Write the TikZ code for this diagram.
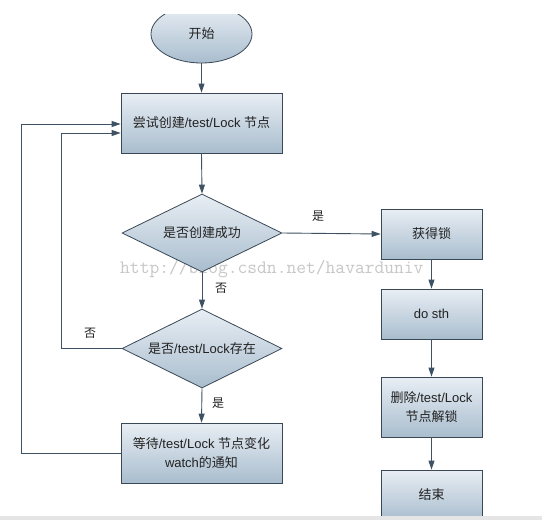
\documentclass[tikz,border=0pt]{standalone}
\usepackage{fontspec}
\setmainfont{Liberation Sans}
\newfontfamily\cjk{Noto Sans CJK SC}
\usetikzlibrary{shapes.geometric,arrows.meta}
\definecolor{edgec}{HTML}{3A4856}
\definecolor{arrc}{HTML}{3E5263}
\definecolor{topc}{HTML}{E8EEF4}
\definecolor{botc}{HTML}{A9BDCE}
\definecolor{txtc}{HTML}{222222}
\tikzset{
  box/.style={draw=edgec, line width=0.8pt, top color=topc, bottom color=botc,
    rectangle, inner sep=1pt, align=center, text=txtc, font=\fontsize{13}{19}\selectfont},
  dia/.style={draw=edgec, line width=0.8pt, top color=topc, bottom color=botc,
    diamond, aspect=2, inner sep=0pt, align=center, text=txtc, font=\fontsize{13}{16}\selectfont,
    minimum width=160pt, minimum height=78pt},
  oval/.style={draw=edgec, line width=0.8pt, top color=topc, bottom color=botc,
    ellipse, inner sep=0pt, text=txtc, font=\fontsize{13}{16}\selectfont,
    minimum width=101pt, minimum height=58pt},
  conn/.style={draw=arrc, line width=0.9pt, -{Triangle[length=9pt,width=6pt]}},
  lbl/.style={text=txtc, font=\cjk\fontsize{12}{14}\selectfont, inner sep=0pt},
}
\begin{document}
\begin{tikzpicture}[x=1pt, y=-1pt]
\useasboundingbox (0,0) rectangle (542,520);
\fill[white] (0,0) rectangle (542,520);
% watermark
\node[text=black!22, font=\ttfamily\fontsize{19}{20}\selectfont, anchor=west, inner sep=0pt] (wm) at (120,269) {http://blog.csdn.net/havarduniv};
\begin{scope}
\clip (0,14.5) rectangle (542,200);
\node[oval] (start) at (201.5,34) {\cjk 开始};
\end{scope}
\node[box, minimum width=161pt, minimum height=60pt] (b1) at (201.5,123) {{\cjk 尝试创建}/test/Lock {\cjk 节点}};
\node[dia] (d1) at (202,233) {\cjk 是否创建成功};
\node[dia, minimum height=79pt] (d2) at (202,348.5) {{\cjk 是否}/test/Lock{\cjk 存在}};
\node[box, minimum width=161pt, minimum height=60pt] (b3) at (201.5,453) {{\cjk 等待}/test/Lock {\cjk 节点变化}\\watch{\cjk 的通知}};
\node[box, minimum width=101pt, minimum height=50pt] (r1) at (431.5,234) {\cjk 获得锁};
\node[box, minimum width=101pt, minimum height=50pt] (r2) at (431.5,314) {do sth};
\node[box, minimum width=101pt, minimum height=60pt] (r3) at (431.5,407) {{\cjk 删除}/test/Lock\\{\cjk 节点解锁}};
\node[box, minimum width=101pt, minimum height=50pt] (r4) at (431.5,495) {\cjk 结束};
% bottom strip
\fill[black!10] (0,515.5) rectangle (542,520);
% connectors
\draw[conn] (start.south) -- (b1.north);
\draw[conn] (b1.south) -- (d1.north);
\draw[conn] (d1.east) -- (r1.west);
\draw[conn] (d1.south) -- (d2.north);
\draw[conn] (d2.south) -- (b3.north);
\draw[conn] (r1.south) -- (r2.north);
\draw[conn] (r2.south) -- (r3.north);
\draw[conn] (r3.south) -- (r4.north);
\coordinate (c1) at (61,133);
\coordinate (c2) at (21,124);
\draw[conn] (d2.west) -| (c1) -- (c1 -| b1.west);
\draw[conn] (b3.west) -| (c2) -- (c2 -| b1.west);
% labels
\node[lbl] (l1) at (318,216) {是};
\node[lbl] (l2) at (221,288) {否};
\node[lbl] (l3) at (90,333) {否};
\node[lbl] (l4) at (218,403) {是};
\end{tikzpicture}
\end{document}
